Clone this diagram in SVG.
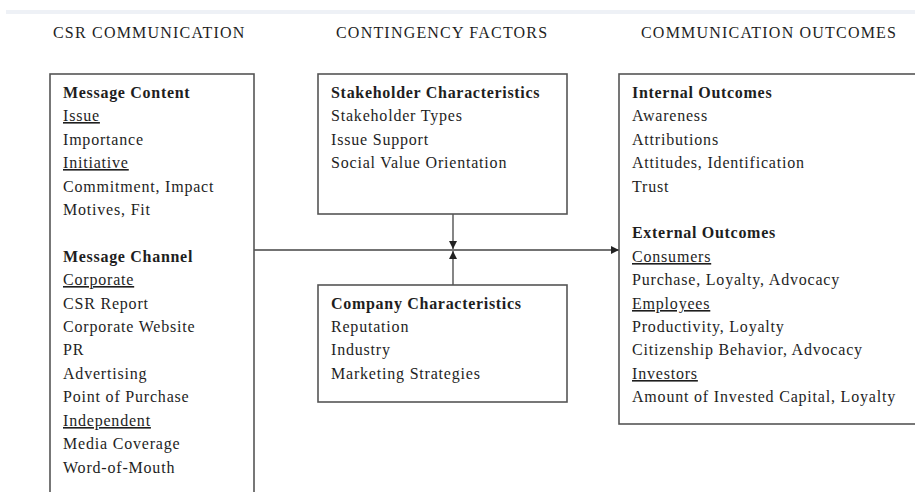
<svg xmlns="http://www.w3.org/2000/svg" width="915" height="492" viewBox="0 0 915 492">
<defs>
<style>
text{font-family:"Liberation Serif","Times New Roman",serif;font-size:16px;letter-spacing:0.8px;fill:#1e1e1e}
.h{font-size:16px;letter-spacing:1.2px}
.b{font-weight:bold;letter-spacing:0.7px}
.u{text-decoration:underline}
.box{fill:#fff;stroke:#555;stroke-width:1.6}
.ln{stroke:#444;stroke-width:1.3;fill:none}
</style>
<marker id="ah" viewBox="0 0 10 10" refX="10" refY="5" markerWidth="8" markerHeight="8" markerUnits="userSpaceOnUse" orient="auto">
<path d="M0,0L10,5L0,10z" fill="#222"/>
</marker>
</defs>
<rect width="915" height="492" fill="#fff"/>
<rect x="6" y="10" width="909" height="4" fill="#eef1f6"/>
<g id="headers">
<text class="h" x="53" y="38">CSR COMMUNICATION</text>
<text class="h" x="336" y="38">CONTINGENCY FACTORS</text>
<text class="h" x="641" y="38">COMMUNICATION OUTCOMES</text>
</g>
<g id="connectors">
<line class="ln" x1="254" y1="250" x2="619" y2="250" marker-end="url(#ah)"/>
<line class="ln" x1="453" y1="214" x2="453" y2="249" marker-end="url(#ah)"/>
<line class="ln" x1="453" y1="285" x2="453" y2="251" marker-end="url(#ah)"/>
</g>
<g id="csr">
<rect class="box" x="50" y="74" width="204" height="430"/>
<text class="b" x="63" y="98">Message Content</text>
<text class="u" x="63" y="121">Issue</text>
<text x="63" y="145">Importance</text>
<text class="u" x="63" y="168">Initiative</text>
<text x="63" y="192">Commitment, Impact</text>
<text x="63" y="215">Motives, Fit</text>
<text class="b" x="63" y="262">Message Channel</text>
<text class="u" x="63" y="285">Corporate</text>
<text x="63" y="309">CSR Report</text>
<text x="63" y="332">Corporate Website</text>
<text x="63" y="355">PR</text>
<text x="63" y="379">Advertising</text>
<text x="63" y="402">Point of Purchase</text>
<text class="u" x="63" y="426">Independent</text>
<text x="63" y="449">Media Coverage</text>
<text x="63" y="473">Word-of-Mouth</text>
</g>
<g id="stakeholder">
<rect class="box" x="318" y="74" width="249" height="140"/>
<text class="b" x="331" y="98">Stakeholder Characteristics</text>
<text x="331" y="121">Stakeholder Types</text>
<text x="331" y="145">Issue Support</text>
<text x="331" y="168">Social Value Orientation</text>
</g>
<g id="company">
<rect class="box" x="318" y="285" width="249" height="117"/>
<text class="b" x="331" y="309">Company Characteristics</text>
<text x="331" y="332">Reputation</text>
<text x="331" y="355">Industry</text>
<text x="331" y="379">Marketing Strategies</text>
</g>
<g id="outcomes">
<rect class="box" x="619" y="74" width="300" height="350"/>
<text class="b" x="632" y="98">Internal Outcomes</text>
<text x="632" y="121">Awareness</text>
<text x="632" y="145">Attributions</text>
<text x="632" y="168">Attitudes, Identification</text>
<text x="632" y="192">Trust</text>
<text class="b" x="632" y="238">External Outcomes</text>
<text class="u" x="632" y="262">Consumers</text>
<text x="632" y="285">Purchase, Loyalty, Advocacy</text>
<text class="u" x="632" y="309">Employees</text>
<text x="632" y="332">Productivity, Loyalty</text>
<text x="632" y="355">Citizenship Behavior, Advocacy</text>
<text class="u" x="632" y="379">Investors</text>
<text x="632" y="402">Amount of Invested Capital, Loyalty</text>
</g>
</svg>
